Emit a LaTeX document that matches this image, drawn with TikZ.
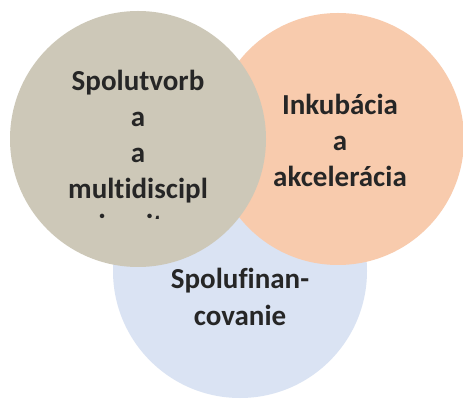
\documentclass[tikz,border=0pt]{standalone}
\usepackage{fontspec}
\setmainfont[Ligatures=NoCommon]{Carlito}
\begin{document}
\begin{tikzpicture}[x=1pt,y=1pt,
  disc/.style={circle,inner sep=0pt,draw=none},
  lbl/.style={anchor=base,inner sep=0pt,text=txt,font=\bfseries\fontsize{29}{35}\selectfont}]
\definecolor{cgray}{HTML}{CDC8B8}
\definecolor{cpeach}{HTML}{F8CBAD}
\definecolor{cblue}{HTML}{DAE3F3}
\definecolor{txt}{HTML}{262626}
\useasboundingbox (0,0) rectangle (463,399);
\fill[white] (0,0) rectangle (463,399);
\node[disc,fill=cblue,minimum size=254pt] (blue) at (240,128) {};
\node[disc,fill=cpeach,minimum size=252pt] (peach) at (338,260) {};
\node[disc,fill=cgray,minimum size=256pt] (gray) at (138,260) {};
% gray texts
\node[lbl] (g1) at (138,308) {Spolutvorb};
\node[lbl] (g2) at (138,272) {a};
\node[lbl] (g3) at (138,236) {a};
\node[lbl] (g4) at (138,200) {multidiscipl};
\begin{scope}
\clip (0,180) rectangle (463,399);
\node[lbl] (g5) at (138,164) {inarita};
\end{scope}
% peach texts
\node[lbl] (p1) at (340,284) {Inkubácia};
\node[lbl] (p2) at (340,248) {a};
\node[lbl] (p3) at (340,212) {akcelerácia};
% blue texts
\node[lbl] (b1) at (240,110) {Spolufinan-};
\node[lbl] (b2) at (240,74) {covanie};
\end{tikzpicture}
\end{document}
